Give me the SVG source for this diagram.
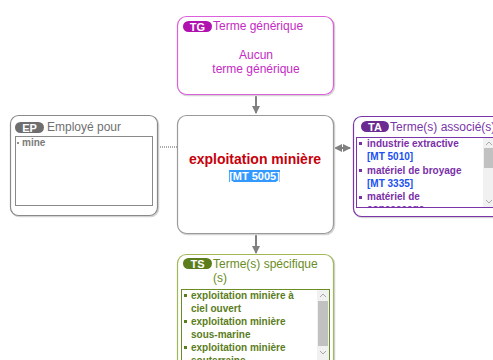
<svg xmlns="http://www.w3.org/2000/svg" width="493" height="360" viewBox="0 0 493 360">
<style>
text{font-family:"Liberation Sans",Arial,sans-serif}
.title{font-size:12px}
.badge{font-size:11px;font-weight:bold;fill:#fff;text-anchor:middle}
.item{font-size:10px;font-weight:bold}
.shadow{fill:none;stroke:#d4d4d4;stroke-width:1.5}
.track{fill:#f1f1f1}
.thumb{fill:#c1c1c1}
.chev{fill:none;stroke:#a8a8a8;stroke-width:1}
.conn{stroke:#808080;stroke-width:2;fill:none}
</style>
<defs>
<marker id="ah" viewBox="0 0 8 8" refX="7" refY="4" markerWidth="8" markerHeight="8" markerUnits="userSpaceOnUse" orient="auto-start-reverse">
<path d="M0,0 L8,4 L0,8 z" fill="#808080"/>
</marker>
<clipPath id="clipTA"><rect x="357" y="138" width="126" height="70"/></clipPath>
<clipPath id="clipTS"><rect x="182" y="290" width="135" height="70"/></clipPath>
</defs>
<rect width="493" height="360" fill="#fff"/>

<g id="connectors">
<line class="conn" x1="256" y1="95" x2="256" y2="113" marker-end="url(#ah)"/>
<line class="conn" x1="256" y1="234" x2="256" y2="253" marker-end="url(#ah)"/>
<line class="conn" x1="335" y1="148" x2="350" y2="148" marker-start="url(#ah)" marker-end="url(#ah)"/>
<line x1="158" y1="147" x2="177" y2="147" stroke="#909090" stroke-width="1.5" stroke-dasharray="1,1"/>
</g>

<g id="node-tg">
<rect class="shadow" x="178.5" y="17.5" width="156" height="78" rx="9"/>
<rect x="177.5" y="16.5" width="156" height="78" rx="9" fill="#fff" stroke="#dc5fdc" stroke-width="1.2"/>
<rect x="183" y="21" width="29" height="11" rx="5.5" fill="#b012b0"/>
<text class="badge" x="197.5" y="30.5">TG</text>
<text class="title" x="213" y="30" fill="#c42ac4">Terme générique</text>
<text class="title" x="256" y="59" fill="#c42ac4" text-anchor="middle">Aucun</text>
<text class="title" x="256" y="73" fill="#c42ac4" text-anchor="middle">terme générique</text>
</g>

<g id="node-main">
<rect class="shadow" x="178.5" y="116.5" width="156" height="118" rx="9"/>
<rect x="177.5" y="115.5" width="156" height="118" rx="9" fill="#fff" stroke="#9a9a9a" stroke-width="1.2"/>
<text x="255" y="164" font-size="14" font-weight="bold" fill="#c8000a" text-anchor="middle">exploitation minière</text>
<rect x="229" y="170" width="51" height="12" fill="#3399ff"/>
<text x="254.5" y="179.5" font-size="11" font-weight="bold" fill="#fff" text-anchor="middle">[MT 5005]</text>
</g>

<g id="node-ep">
<rect class="shadow" x="11.5" y="116.5" width="147" height="100" rx="8"/>
<rect x="10.5" y="115.5" width="147" height="100" rx="8" fill="#fff" stroke="#8a8a8a" stroke-width="1.2"/>
<rect x="15" y="122" width="29" height="11" rx="5.5" fill="#6e6e6e"/>
<text class="badge" x="29.5" y="131.5">EP</text>
<text class="title" x="47" y="131" fill="#707070">Employé pour</text>
<rect x="15.5" y="136.5" width="137" height="69" fill="#fff" stroke="#8a8a8a"/>
<rect x="17" y="142" width="2" height="2" fill="#909090"/>
<text class="item" x="22" y="146" fill="#7a7a7a">mine</text>
</g>

<g id="node-ta">
<rect class="shadow" x="354.5" y="117.5" width="150" height="100" rx="8"/>
<rect x="353.5" y="116.5" width="150" height="100" rx="8" fill="#fff" stroke="#7a35a8" stroke-width="1.2"/>
<rect x="361" y="121" width="28" height="11" rx="5.5" fill="#6a2a92"/>
<text class="badge" x="375" y="130.5">TA</text>
<text class="title" x="390" y="131" fill="#7a35a8">Terme(s) associé(s)</text>
<rect x="356.5" y="137.5" width="140" height="70" fill="#fff" stroke="#7a35a8"/>
<g clip-path="url(#clipTA)">
<rect x="359" y="142" width="3" height="3" fill="#7a2fa8"/>
<text class="item" x="367" y="147" fill="#7a2fa8">industrie extractive</text>
<text class="item" x="367" y="160" fill="#2050f0">[MT 5010]</text>
<rect x="359" y="169" width="3" height="3" fill="#7a2fa8"/>
<text class="item" x="367" y="174" fill="#7a2fa8">matériel de broyage</text>
<text class="item" x="367" y="187" fill="#2050f0">[MT 3335]</text>
<rect x="359" y="196" width="3" height="3" fill="#7a2fa8"/>
<text class="item" x="367" y="200" fill="#7a2fa8">matériel de</text>
<text class="item" x="367" y="212" fill="#7a2fa8">concassage</text>
</g>
<rect class="track" x="483" y="138" width="13" height="69"/>
<rect class="thumb" x="484" y="148" width="11" height="20"/>
<path class="chev" d="M486,145 L489,142 L492,145"/>
<path class="chev" d="M486,200 L489,203 L492,200"/>
</g>

<g id="node-ts">
<rect class="shadow" x="178.5" y="255.5" width="156" height="120" rx="9"/>
<rect x="177.5" y="254.5" width="156" height="120" rx="9" fill="#fff" stroke="#a0b85a" stroke-width="1.2"/>
<rect x="183" y="258" width="29" height="11" rx="5.5" fill="#5b7d1c"/>
<text class="badge" x="197.5" y="267.5">TS</text>
<text class="title" x="213" y="268" fill="#6a8c25">Terme(s) spécifique</text>
<text class="title" x="213" y="282" fill="#6a8c25">(s)</text>
<rect x="181.5" y="289.5" width="148" height="80" fill="#fff" stroke="#6a8c25"/>
<g clip-path="url(#clipTS)">
<rect x="184" y="294" width="3" height="3" fill="#5b7d1c"/>
<text class="item" x="191" y="299" fill="#5b7d1c">exploitation minière à</text>
<text class="item" x="191" y="312" fill="#5b7d1c">ciel ouvert</text>
<rect x="184" y="320" width="3" height="3" fill="#5b7d1c"/>
<text class="item" x="191" y="325" fill="#5b7d1c">exploitation minière</text>
<text class="item" x="191" y="338" fill="#5b7d1c">sous-marine</text>
<rect x="184" y="346" width="3" height="3" fill="#5b7d1c"/>
<text class="item" x="191" y="351" fill="#5b7d1c">exploitation minière</text>
<text class="item" x="191" y="364" fill="#5b7d1c">souterraine</text>
</g>
<rect class="track" x="317" y="290" width="12" height="70"/>
<rect class="thumb" x="318" y="301" width="10" height="45"/>
<path class="chev" d="M320,297 L323,294 L326,297"/>
<path class="chev" d="M320,351 L323,354 L326,351"/>
</g>
</svg>
